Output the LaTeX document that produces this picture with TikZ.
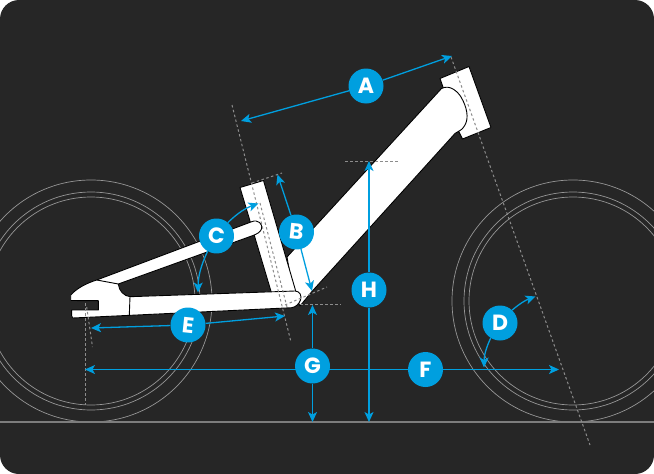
\documentclass[tikz,border=0pt]{standalone}
\usepackage{fontspec}
\setmainfont{Poppins}
\usepackage{xcolor}
\usetikzlibrary{arrows.meta}
\definecolor{panel}{HTML}{262626}
\definecolor{marker}{HTML}{009FDF}
\definecolor{guide}{HTML}{8C8C8C}
\definecolor{tyre}{HTML}{969696}
\tikzset{
  wheel/.style={draw=tyre,line width=0.7pt},
  frame part/.style={fill=white,draw=black,line width=0.9pt,line join=round},
  seam/.style={draw=black,line width=0.9pt},
  guide line/.style={draw=guide,line width=1pt,dash pattern=on 2.5pt off 2.5pt},
  badge/.style={circle,fill=marker,text=white,font=\fontsize{22}{22}\selectfont\bfseries,
    minimum size=35pt,inner sep=0pt},
  measure/.style={every edge/.style={draw=marker,line width=1.3pt,
    -{Stealth[length=10pt,width=9pt,inset=2.5pt,fill=marker]}}}
}
\begin{document}
\begin{tikzpicture}[x=1pt,y=-1pt]
  \useasboundingbox (0,0) rectangle (654,474);
  \fill[white] (0,0) rectangle (654,474);
  \fill[panel,rounded corners=19pt] (0,0) rectangle (654,474);
  \begin{scope}
    \clip (0,0) rectangle (654,474);
    % wheels
    \foreach \r in {121,109,104} {
      \draw[wheel] (91,301) circle (\r);
      \draw[wheel] (573,301) circle (\r);
    }
    \draw[draw=guide!85!panel,line width=1.2pt] (0,422) -- (654,422);
  \end{scope}
  % frame
  \draw[frame part] (440,78.5) -- (469,66.5) -- (491,127.5) -- (462.5,139) -- (458,130) -- cycle;
  \draw[frame part] (287,257) -- (441.5,88.5) .. controls (450,84) and (458,92) .. (461,97)
    .. controls (467,107) and (469,118) .. (465,125) .. controls (462,131) and (458,131) .. (455,133.5)
    -- (311.5,292) -- (300,306) -- (293,292) -- cycle;
  \draw[frame part] (240,187.5) -- (263.5,180.5) -- (296,292) -- (271.5,293) -- cycle;
  \draw[frame part] (70.7,295) .. controls (77,288) and (87,283) .. (96.7,280) -- (251.7,221.7)
    .. controls (258,219) and (263,224) .. (261.5,229) .. controls (260.5,232) and (257,234) .. (253,235.5)
    -- (118.3,284) .. controls (119,291) and (124,296) .. (130,296.7) -- (295,291)
    .. controls (300,291) and (302,296) .. (300.5,300) .. controls (299,304) and (296,307) .. (291.7,307.7)
    -- (73,318) .. controls (71.5,318) and (71.5,316) .. (71.7,310) -- (98.3,310) -- (98.3,300.7) -- (70.7,300.5) -- cycle;
  \draw[seam] (96.7,280) -- (118.3,284);
  \draw[seam] (130,296.7) -- (129.3,315);
  % guides
  \coordinate (seatTop) at (232,105);
  \coordinate (seatEnd) at (291,342);
  \coordinate (headTop) at (451,57);
  \coordinate (headEnd) at (590,445);
  \draw[guide line] (seatTop) -- (seatEnd);
  \draw[guide line] (headTop) -- (headEnd);
  \draw[guide line] (260,203) -- (287,307);
  \draw[guide line] (252,183) -- (282,173);
  \draw[guide line] (285,305) -- (327,287);
  \draw[guide line] (300,304) -- (341,304);
  \draw[guide line] (345,161) -- (398,161);
  \draw[guide line] (85.7,303) -- (85.7,405);
  \draw[guide line] (86.7,307) -- (92.5,347);
  % labels and arrows
  \coordinate (tipAleft) at (241,121);
  \coordinate (tipAright) at (452,56);
  \coordinate (tipBtop) at (277.5,174.5);
  \coordinate (tipBlow) at (312,291);
  \coordinate (tipCtop) at (258.5,203.5);
  \coordinate (tipClow) at (198,292.5);
  \coordinate (tipDtop) at (535.5,296.5);
  \coordinate (tipDlow) at (484,367.5);
  \coordinate (tipEleft) at (91,328);
  \coordinate (tipEright) at (285,316);
  \coordinate (tipFleft) at (85,369.5);
  \coordinate (tipFright) at (559,369.5);
  \coordinate (tipGtop) at (312.5,305);
  \coordinate (tipGlow) at (312.5,422);
  \coordinate (tipHtop) at (369,161);
  \coordinate (tipHlow) at (369,422);

  \node[badge] (F) at (425.5,369.5) {F};
  \path[measure] (F) edge (tipFleft);
  \path[measure] (F) edge (tipFright);
  \node[badge] (A) at (366,86) {A};
  \path[measure] (A) edge (tipAleft);
  \path[measure] (A) edge (tipAright);
  \node[badge,rotate=-6] (B) at (296.5,232) {B};
  \path[measure] (B) edge (tipBtop);
  \path[measure] (B) edge (tipBlow);
  \node[badge,rotate=-6] (C) at (216.5,236) {C};
  \path[measure] (C) edge[bend left=12] (tipCtop);
  \path[measure] (C) edge[bend right=12] (tipClow);
  \node[badge] (D) at (500,323) {D};
  \path[measure] (D) edge[bend left=10] (tipDtop);
  \path[measure] (D) edge[bend right=12] (tipDlow);
  \node[badge,rotate=-6] (E) at (188,325) {E};
  \path[measure] (E) edge (tipEleft);
  \path[measure] (E) edge (tipEright);
  \node[badge] (G) at (312.5,366) {G};
  \path[measure] (G) edge (tipGtop);
  \path[measure] (G) edge (tipGlow);
  \node[badge] (H) at (369,290) {H};
  \path[measure] (H) edge (tipHtop);
  \path[measure] (H) edge (tipHlow);
\end{tikzpicture}
\end{document}
